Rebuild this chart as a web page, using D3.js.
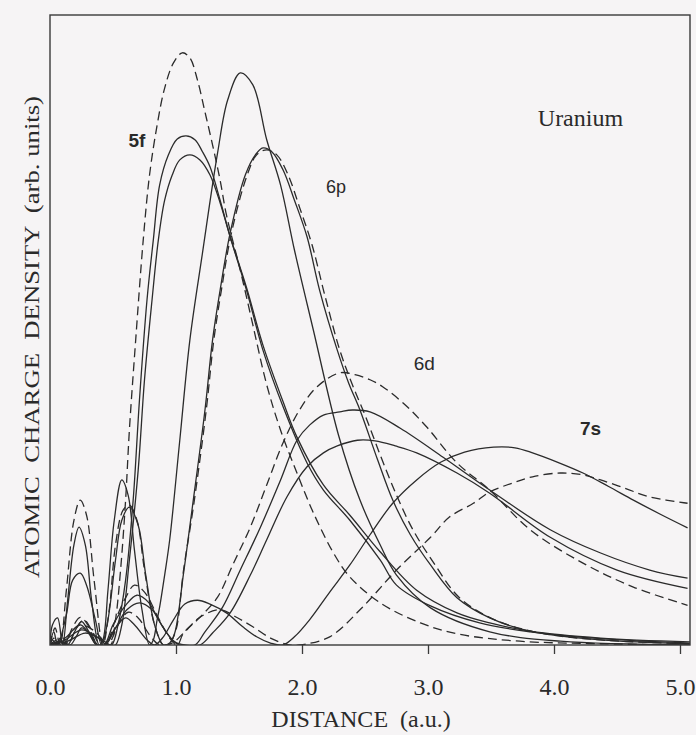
<!DOCTYPE html>
<html>
<head>
<meta charset="utf-8">
<script src="https://cdn.jsdelivr.net/npm/d3@7/dist/d3.min.js"></script>
<style>
  html, body { margin: 0; padding: 0; background: #f6f4f5; }
  svg { display: block; }
</style>
</head>
<body>
<svg></svg>
<script>
// radial charge densities: [distance (a.u.), density (arb.)]
const f5Nonrel = [[0,0],[0.12,1.1],[0.24,3.2],[0.36,2.1],[0.44,0.3],[0.48,0],[0.52,4.0],[0.56,11.9],[0.60,23.0],[0.63,34.1],[0.68,48.4],[0.74,64.3],[0.79,74.6],[0.85,82.5],[0.91,88.4],[0.98,92.4],[1.05,94.0],[1.11,93.2],[1.17,89.7],[1.23,84.6],[1.29,79.4],[1.35,73.8],[1.40,68.3],[1.51,59.5],[1.61,50.8],[1.72,41.3],[1.83,34.1],[1.96,27.3],[2.09,21.0],[2.25,14.6],[2.38,10.8],[2.62,6.7],[2.94,3.5],[3.25,1.7],[3.73,0.6],[4.37,0.2],[5.08,0]];
const f5Low = [[0,0],[0.12,0.8],[0.25,2.4],[0.37,1.3],[0.45,0],[0.49,0],[0.54,3.2],[0.60,10.3],[0.66,23.0],[0.71,38.9],[0.77,54.8],[0.82,64.3],[0.87,73.0],[0.94,77.8],[1.01,80.3],[1.08,80.8],[1.15,80.2],[1.21,78.3],[1.27,75.9],[1.35,70.6],[1.43,64.8],[1.56,56.3],[1.69,46.8],[1.85,37.8],[2.04,28.9],[2.17,24.6],[2.38,19.8],[2.62,13.5],[2.75,9.5],[3.02,6.2],[3.41,3.5],[3.81,2.1],[4.37,1.0],[5.08,0.3]];
const f5High = [[0,0],[0.14,0.6],[0.28,1.9],[0.40,1.0],[0.48,0],[0.52,0],[0.57,3.2],[0.63,13.5],[0.70,27.8],[0.75,42.1],[0.81,54.8],[0.86,64.3],[0.91,70.6],[0.97,74.6],[1.03,77.0],[1.11,77.8],[1.19,77.0],[1.27,74.6],[1.35,70.2],[1.43,64.8],[1.56,56.7],[1.69,47.6],[1.85,38.6],[1.96,33.0],[2.17,25.4],[2.38,20.6],[2.62,14.8],[2.91,8.7],[3.23,5.1],[3.49,3.5],[3.81,2.2],[4.37,1.1],[5.08,0.5]];
const p6Low = [[0,0],[0.02,3.2],[0.06,4.3],[0.10,0],[0.14,7.1],[0.19,15.9],[0.23,18.7],[0.28,15.9],[0.33,7.1],[0.39,0],[0.42,0.8],[0.46,8.7],[0.51,19.8],[0.57,26.2],[0.62,23.8],[0.67,15.1],[0.73,5.6],[0.79,0],[0.82,0.8],[0.85,4.0],[0.87,6.0],[0.91,11.1],[0.95,16.7],[1.03,32.5],[1.11,48.4],[1.21,62.2],[1.33,78.1],[1.41,86.5],[1.51,90.8],[1.61,88.9],[1.72,80.2],[1.83,73.0],[1.94,62.7],[2.09,50.0],[2.29,33.3],[2.46,23.0],[2.62,15.9],[2.75,11.1],[3.02,5.9],[3.49,2.1],[4.05,0.6],[5.08,0]];
const p6High = [[0,0],[0.03,2.1],[0.06,0],[0.13,4.8],[0.18,10.3],[0.24,11.4],[0.29,9.5],[0.36,4.0],[0.41,0],[0.46,4.0],[0.52,13.5],[0.57,19.8],[0.63,21.9],[0.70,19.0],[0.76,11.1],[0.83,3.2],[0.90,0],[0.95,0.3],[0.99,1.9],[1.06,11.4],[1.13,21.9],[1.23,37.3],[1.29,48.4],[1.35,56.3],[1.43,65.4],[1.55,74.6],[1.63,77.8],[1.69,78.9],[1.76,78.3],[1.85,75.4],[1.94,70.6],[2.04,64.8],[2.14,56.3],[2.28,46.8],[2.37,41.6],[2.46,37.3],[2.60,29.4],[2.72,23.0],[2.86,17.5],[3.02,12.7],[3.23,7.5],[3.49,4.3],[3.81,2.2],[4.37,0.8],[5.08,0.2]];
const p6Nonrel = [[0,0],[0.04,2.7],[0.08,0],[0.13,8.7],[0.19,19.8],[0.24,23.0],[0.29,20.6],[0.35,10.3],[0.42,0],[0.47,5.6],[0.52,15.9],[0.58,21.4],[0.63,22.2],[0.69,19.8],[0.75,11.9],[0.83,3.2],[0.90,0],[0.95,0.3],[1.00,2.4],[1.06,11.9],[1.14,22.2],[1.24,37.3],[1.30,48.4],[1.36,56.3],[1.44,65.4],[1.56,74.3],[1.64,77.8],[1.72,78.6],[1.80,77.8],[1.89,74.6],[1.98,69.5],[2.08,63.5],[2.18,55.6],[2.30,46.8],[2.40,41.3],[2.50,36.5],[2.62,30.2],[2.75,23.8],[2.88,18.3],[3.04,13.2],[3.25,7.5],[3.53,4.0],[3.89,1.9],[4.37,0.8],[5.08,0.2]];
const d6Nonrel = [[0,0],[0.06,0.8],[0.12,0],[0.17,2.4],[0.24,4.4],[0.30,3.2],[0.38,0],[0.44,0],[0.52,4.0],[0.60,7.5],[0.67,9.5],[0.75,8.4],[0.86,4.3],[0.95,1.1],[1.01,0],[1.06,1.9],[1.19,4.4],[1.33,7.6],[1.45,12.7],[1.59,18.7],[1.72,25.4],[1.85,32.1],[1.98,37.3],[2.12,41.0],[2.30,43.2],[2.42,42.9],[2.54,42.1],[2.64,41.0],[2.82,38.1],[2.99,34.6],[3.23,28.9],[3.49,24.6],[3.81,18.3],[4.23,13.0],[4.63,9.2],[5.06,6.3]];
const d6Low = [[0,0],[0.08,0.6],[0.14,0],[0.19,1.9],[0.25,3.7],[0.30,2.4],[0.37,0],[0.43,0],[0.50,3.2],[0.60,6.3],[0.69,7.9],[0.78,6.8],[0.87,3.7],[0.97,0.8],[1.03,0],[1.15,0],[1.23,2.1],[1.37,6.0],[1.51,11.9],[1.67,18.7],[1.83,26.2],[1.96,32.5],[2.06,34.9],[2.17,36.5],[2.30,37.0],[2.40,37.3],[2.54,37.0],[2.78,34.4],[3.12,29.8],[3.49,24.6],[3.97,18.3],[4.37,14.6],[4.76,11.9],[5.06,10.6]];
const d6High = [[0,0],[0.10,0.5],[0.16,0],[0.21,1.4],[0.25,2.7],[0.32,1.7],[0.38,0],[0.44,0],[0.52,2.7],[0.61,5.6],[0.71,6.7],[0.81,5.6],[0.90,2.7],[0.99,0.5],[1.07,0],[1.19,0],[1.29,1.9],[1.43,5.1],[1.59,11.1],[1.72,16.7],[1.88,23.5],[2.04,28.3],[2.17,30.5],[2.28,31.6],[2.44,32.5],[2.58,32.4],[2.74,31.6],[2.91,30.5],[3.23,27.3],[3.49,24.1],[3.97,17.1],[4.50,11.9],[5.06,9.0]];
const s7Rel = [[0,0],[0.02,0.8],[0.05,0],[0.08,1.1],[0.11,0],[0.17,2.1],[0.24,3.2],[0.30,2.1],[0.37,0],[0.43,0],[0.52,2.7],[0.60,4.3],[0.67,3.2],[0.77,0.8],[0.83,0],[0.90,1.3],[0.98,4.0],[1.07,6.5],[1.17,7.1],[1.27,6.5],[1.40,5.1],[1.53,2.9],[1.64,1.3],[1.75,0.3],[1.85,0],[1.94,1.3],[2.06,4.0],[2.22,8.4],[2.38,12.7],[2.54,17.5],[2.72,22.5],[2.91,26.2],[3.10,29.0],[3.29,30.6],[3.52,31.4],[3.69,31.3],[3.83,30.5],[4.03,29.0],[4.23,27.3],[4.43,25.2],[4.63,23.0],[4.84,20.8],[5.06,18.6]];
const s7Nonrel = [[0,0],[0.03,1.1],[0.06,0],[0.10,1.4],[0.14,0],[0.21,2.7],[0.27,4.0],[0.33,2.4],[0.40,0],[0.46,0],[0.54,3.2],[0.62,5.2],[0.70,4.3],[0.79,1.6],[0.87,0],[0.97,0.3],[1.06,1.9],[1.19,4.4],[1.35,5.6],[1.48,4.4],[1.61,2.9],[1.75,1.1],[1.90,0],[1.98,0],[2.22,1.3],[2.48,6.0],[2.75,11.9],[3.02,17.1],[3.17,20.3],[3.36,22.5],[3.49,24.3],[3.67,25.7],[3.83,26.7],[4.05,27.3],[4.23,27.0],[4.37,26.2],[4.56,24.9],[4.76,23.5],[5.06,22.5]];

const xTickValues = [0, 1, 2, 3, 4, 5];

const curves = [
    { data: f5Nonrel, dashed: true },
    { data: f5Low, dashed: false },
    { data: f5High, dashed: false },
    { data: p6Low, dashed: false },
    { data: p6High, dashed: false },
    { data: p6Nonrel, dashed: true },
    { data: d6Nonrel, dashed: true },
    { data: d6Low, dashed: false },
    { data: d6High, dashed: false },
    { data: s7Rel, dashed: false },
    { data: s7Nonrel, dashed: true },
];

var margin = { top: 15, right: 6, bottom: 90, left: 50 };
var width = 696 - margin.left - margin.right;   // 640
var height = 735 - margin.top - margin.bottom;  // 630

const svg = d3.select("svg")
    .attr("width", 696)
    .attr("height", 735)
    .append("g")
    .attr("transform", "translate(" + margin.left + "," + margin.top + ")");

const x = d3.scaleLinear().domain([0, width / 126]).range([0, width]);
const y = d3.scaleLinear().domain([0, 100]).range([height, 0]);

const ink = "#2b2b2b";

// keep the smoothed curves inside the frame
svg.append("clipPath")
    .attr("id", "plot-area")
    .append("rect")
    .attr("width", width)
    .attr("height", height);

// curves
const line = d3.line()
    .x((d) => x(d[0]))
    .y((d) => y(d[1]))
    .curve(d3.curveCatmullRom.alpha(0.5));

svg.append("g")
    .attr("clip-path", "url(#plot-area)")
    .selectAll("path")
    .data(curves)
    .enter()
    .append("path")
    .attr("d", (d) => line(d.data))
    .attr("fill", "none")
    .attr("stroke", ink)
    .attr("stroke-width", 1.3)
    .attr("stroke-dasharray", (d) => d.dashed ? "9,5" : null);

// frame
svg.append("rect")
    .attr("x", 0)
    .attr("y", 0)
    .attr("width", width)
    .attr("height", height)
    .attr("fill", "none")
    .attr("stroke", "#3a3a3a")
    .attr("stroke-width", 1.4);

// x axis: ticks point outward, labels well below
const xAxis = svg.append("g")
    .attr("transform", "translate(0," + height + ")")
    .call(d3.axisBottom(x)
        .tickValues(xTickValues)
        .tickSize(9)
        .tickPadding(24)
        .tickFormat(d3.format(".1f")));

xAxis.select(".domain").remove();
xAxis.selectAll(".tick line")
    .attr("stroke", "#3a3a3a")
    .attr("stroke-width", 1.3)
    .filter((d) => d === 0)
    .remove();
xAxis.selectAll(".tick text")
    .attr("fill", "#2a2a2a")
    .style("font-family", "'Liberation Serif', 'Times New Roman', serif")
    .style("font-size", "24px");

// axis titles
svg.append("text")
    .attr("x", 311)
    .attr("y", 712)
    .attr("text-anchor", "middle")
    .attr("fill", "#2a2a2a")
    .style("font-family", "'Liberation Serif', 'Times New Roman', serif")
    .style("font-size", "24px")
    .style("white-space", "pre")
    .text("DISTANCE  (a.u.)");

svg.append("text")
    .attr("transform", "translate(-11," + 322 + ") rotate(-90)")
    .attr("text-anchor", "middle")
    .attr("fill", "#2a2a2a")
    .style("font-family", "'Liberation Serif', 'Times New Roman', serif")
    .style("font-size", "21px")
    .attr("textLength", 482)
    .attr("lengthAdjust", "spacingAndGlyphs")
    .style("white-space", "pre")
    .text("ATOMIC  CHARGE  DENSITY  (arb. units)");

// orbital labels and element name
const sans = "'Liberation Sans', Arial, sans-serif";
const notes = [
    { t: "5f", at: [0.69, 79.0], size: 19, font: sans, weight: "bold" },
    { t: "6p", at: [2.27, 71.7], size: 18, font: sans, weight: "normal" },
    { t: "6d", at: [2.97, 43.7], size: 19, font: sans, weight: "normal" },
    { t: "7s", at: [4.29, 33.3], size: 19, font: sans, weight: "bold" },
    { t: "Uranium", at: [4.21, 82.4], size: 24, font: "'Liberation Serif', serif", weight: "normal" },
];

svg.append("g")
    .selectAll("text")
    .data(notes)
    .enter()
    .append("text")
    .attr("x", (d) => x(d.at[0]))
    .attr("y", (d) => y(d.at[1]))
    .attr("text-anchor", "middle")
    .attr("fill", "#2a2a2a")
    .style("font-family", (d) => d.font)
    .style("font-size", (d) => d.size + "px")
    .style("font-weight", (d) => d.weight)
    .text((d) => d.t);
</script>
</body>
</html>
